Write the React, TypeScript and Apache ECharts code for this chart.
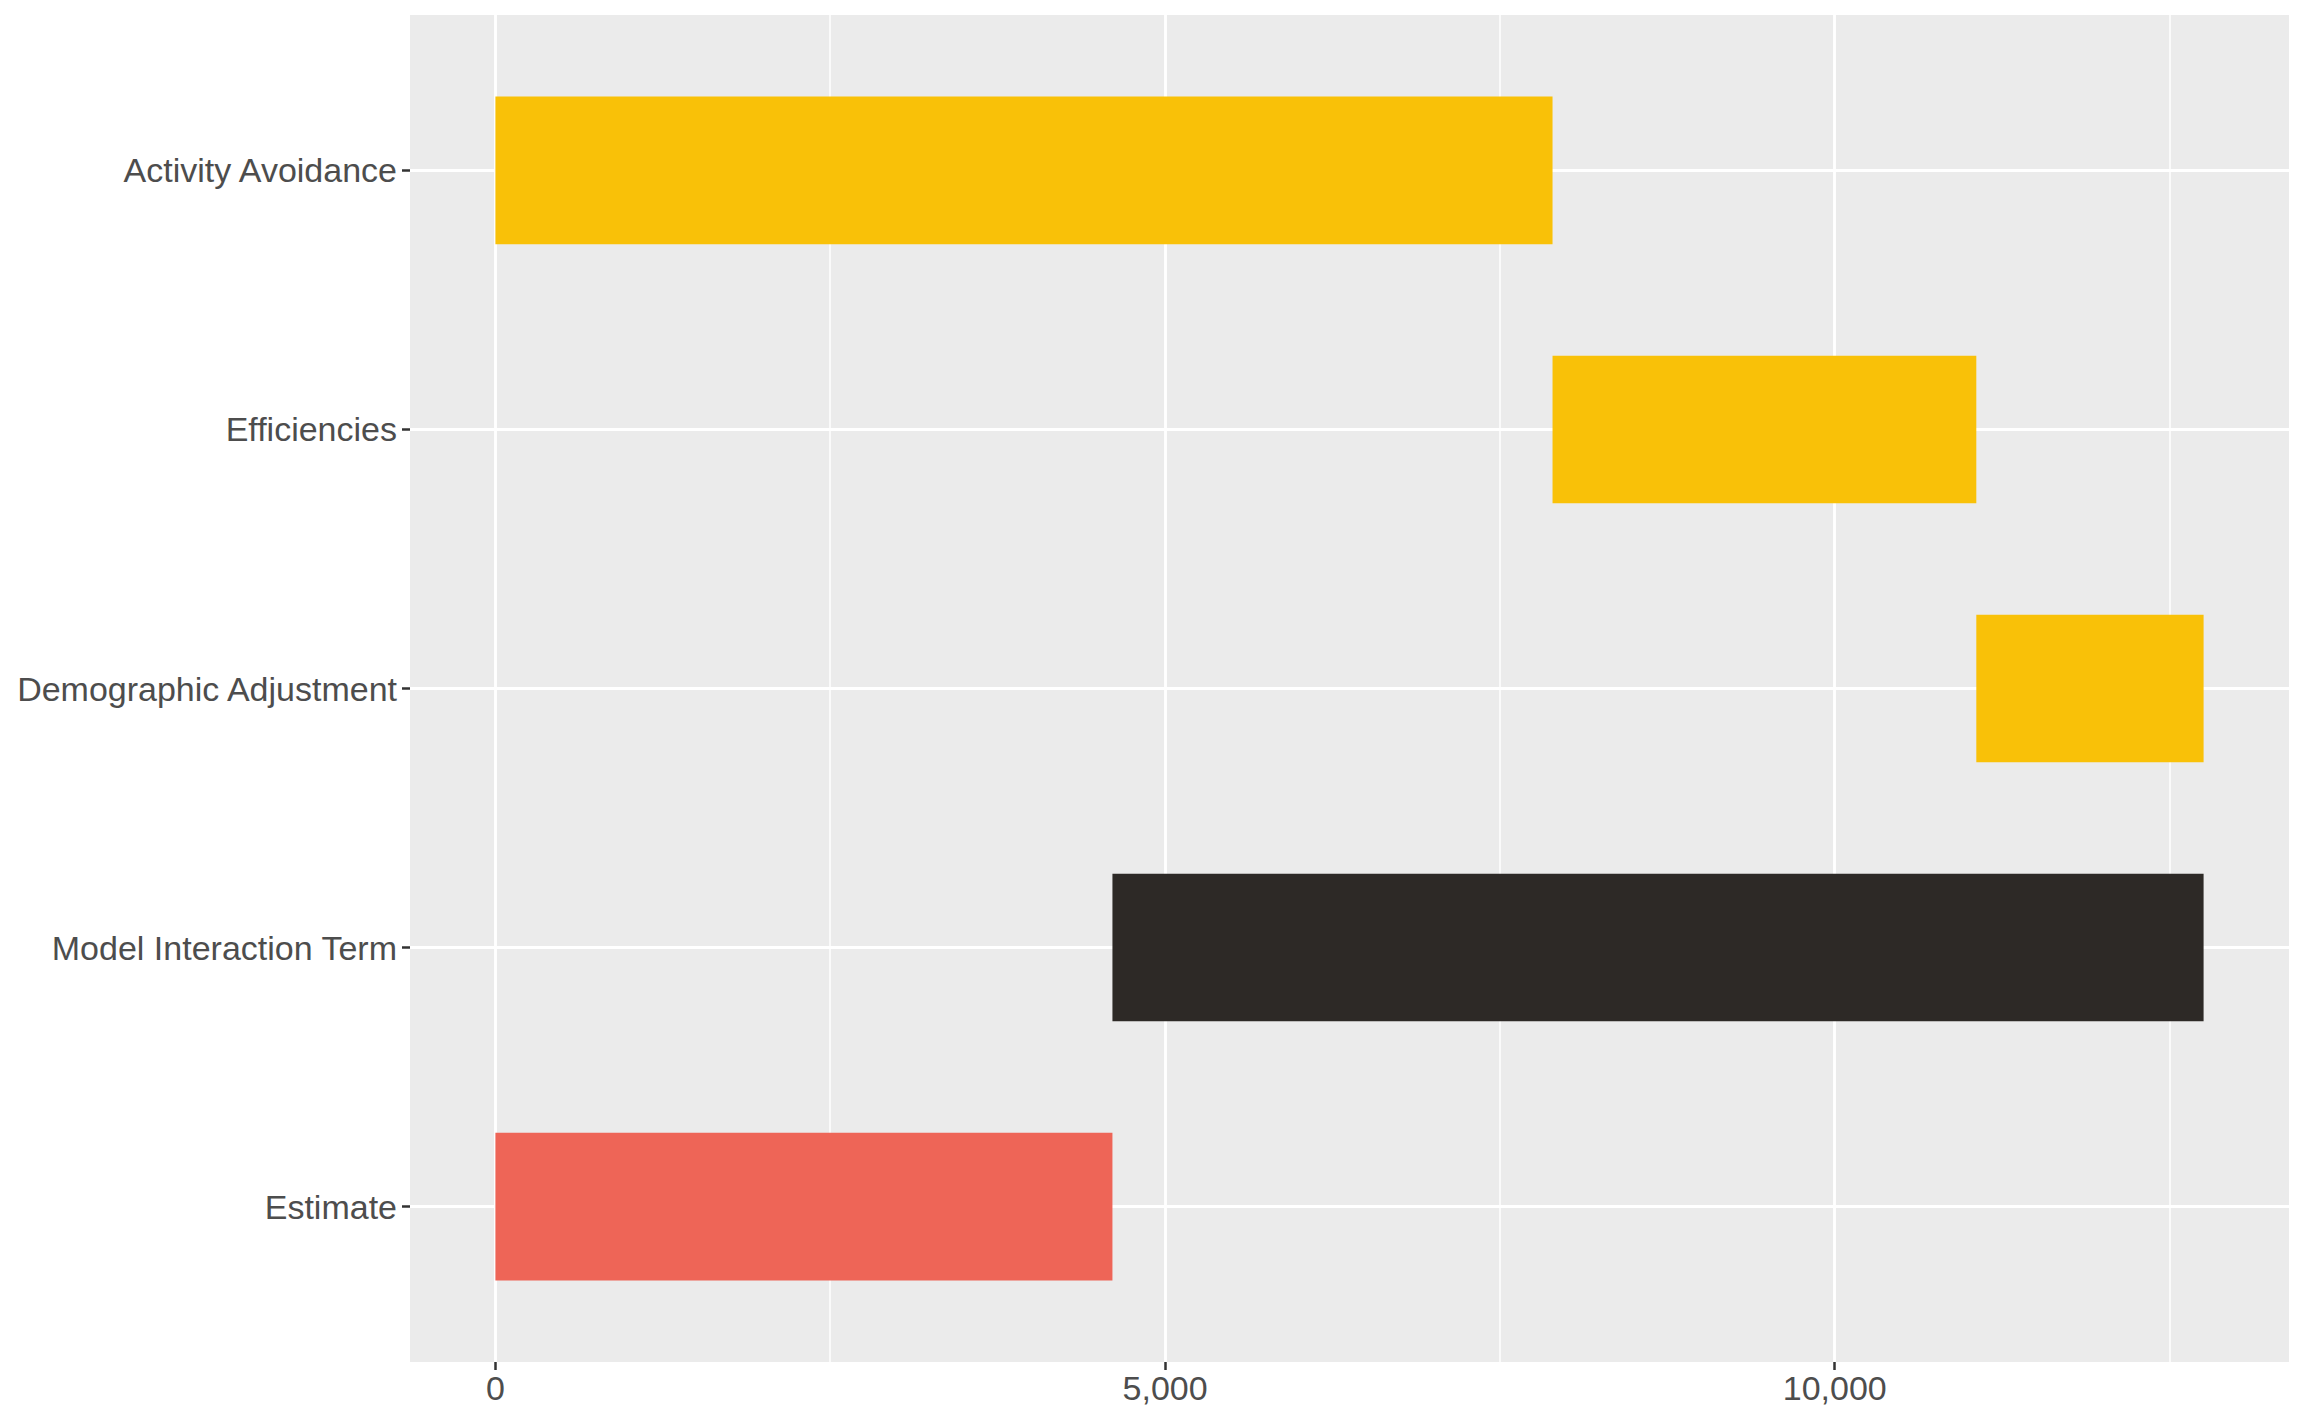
import React, { useEffect, useRef } from "react";
import * as echarts from "echarts";

const categories = [
  "Estimate",
  "Model Interaction Term",
  "Demographic Adjustment",
  "Efficiencies",
  "Activity Avoidance",
];
const changes = [4607, 8147, -1697, -3164, -7893];
const barColors = ["#EE6557", "#2D2926", "#F9C108", "#F9C108", "#F9C108"];
const majorBreaks = [0, 5000, 10000];
const minorBreaks = [2500, 7500, 12500];

export default function App() {
  const ref = useRef<HTMLDivElement>(null);
  useEffect(() => {
    document.body.style.margin = "0";
    if (!ref.current) return;
    const chart = echarts.init(ref.current, undefined, { renderer: "svg" });

    const rows: number[][] = [];
    let run = 0;
    changes.forEach((c, i) => {
      const start = run;
      run += c;
      rows.push([start, run, i + 1, i]);
    });
    const allVals = rows.flatMap((r) => [r[0], r[1]]);
    const lo = Math.min(0, ...allVals);
    const hi = Math.max(...allVals);
    const pad = (hi - lo) * 0.05;

    const font = "'Liberation Sans', Arial, Helvetica, sans-serif";
    const white = "#FFFFFF";
    const catPos = categories.map((_, i) => i + 1);

    const option: any = {
      animation: false,
      grid: {
        left: 410,
        right: 15,
        top: 15,
        bottom: 61,
        show: true,
        backgroundColor: "#EBEBEB",
        borderWidth: 0,
        containLabel: false,
      },
      xAxis: {
        type: "value",
        min: lo - pad,
        max: hi + pad,
        axisLine: { show: true, onZero: false, lineStyle: { color: "rgba(0,0,0,0)", width: 0 } },
        splitLine: { show: false },
        axisTick: {
          show: true,
          customValues: majorBreaks,
          length: 8,
          lineStyle: { color: "#333333", width: 2.5 },
        },
        axisLabel: {
          show: true,
          customValues: majorBreaks,
          margin: 9,
          color: "#4D4D4D",
          fontSize: 34,
          fontFamily: font,
          formatter: (v: number) => Math.round(v).toLocaleString("en-US"),
        },
      },
      yAxis: {
        type: "value",
        min: 0.4,
        max: categories.length + 0.6,
        axisLine: { show: true, onZero: false, lineStyle: { color: "rgba(0,0,0,0)", width: 0 } },
        splitLine: { show: false },
        axisTick: {
          show: true,
          customValues: catPos,
          length: 8,
          lineStyle: { color: "#333333", width: 2.5 },
        },
        axisLabel: {
          show: true,
          customValues: catPos,
          margin: 13,
          color: "#4D4D4D",
          fontSize: 34,
          fontFamily: font,
          formatter: (v: number) => categories[Math.round(v) - 1] ?? "",
        },
      },
      series: [
        {
          type: "line",
          data: [],
          z: 1,
          silent: true,
          markLine: {
            silent: true,
            z: 1,
            symbol: ["none", "none"],
            label: { show: false },
            animation: false,
            data: [
              ...minorBreaks.map((b) => ({
                xAxis: b,
                lineStyle: { color: white, width: 1.5, type: "solid" },
              })),
              ...majorBreaks.map((b) => ({
                xAxis: b,
                lineStyle: { color: white, width: 2.9, type: "solid" },
              })),
              ...catPos.map((p) => ({
                yAxis: p,
                lineStyle: { color: white, width: 2.9, type: "solid" },
              })),
            ],
          },
        },
        {
          type: "custom",
          z: 10,
          silent: true,
          data: rows,
          encode: { x: [0, 1], y: 2 },
          renderItem: (params: any, api: any) => {
            const s = api.coord([api.value(0), api.value(2)]);
            const e = api.coord([api.value(1), api.value(2)]);
            const h = api.size([0, 0.57])[1];
            return {
              type: "rect",
              shape: {
                x: Math.min(s[0], e[0]),
                y: s[1] - h / 2,
                width: Math.abs(e[0] - s[0]),
                height: h,
              },
              style: { fill: barColors[api.value(3)] },
            };
          },
        },
      ],
    };
    chart.setOption(option);
    return () => chart.dispose();
  }, []);
  return (
    <div
      ref={ref}
      style={{ position: "absolute", left: 0, top: 0, width: 2304, height: 1423, background: "#FFFFFF" }}
    />
  );
}
